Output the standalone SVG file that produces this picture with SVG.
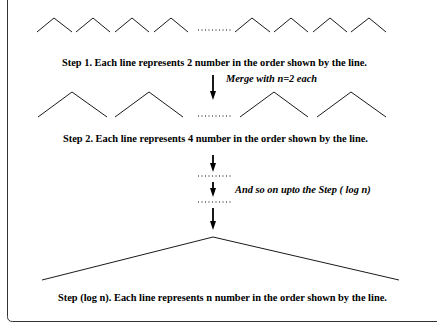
<svg xmlns="http://www.w3.org/2000/svg" width="438" height="327" viewBox="0 0 438 327">
<style>
.z{fill:none;stroke:#000;stroke-width:0.9}
.t{font-family:"Liberation Serif",serif;font-weight:bold;font-size:10.4px;fill:#000}
.i{font-family:"Liberation Serif",serif;font-weight:bold;font-style:italic;font-size:10.4px;fill:#000}
.a{stroke:#000;stroke-width:1.8;marker-end:url(#ah)}
.d{stroke:#000;stroke-width:1;stroke-dasharray:1 2.5}
</style>
<defs>
<marker id="ah" markerWidth="9" markerHeight="6" refX="0" refY="3" orient="auto" markerUnits="userSpaceOnUse" viewBox="0 0 9 6">
<path d="M0,0 L9,3 L0,6 Z" fill="#000"/>
</marker>
</defs>
<path d="M7.5,0 V316.5 Q7.5,321.5 12.5,321.5 H437" fill="none" stroke="#333" stroke-width="1"/>
<g id="row1">
<polyline class="z" points="37,32 54,18 72,32"/>
<polyline class="z" points="76,32 93,18 110,32"/>
<polyline class="z" points="115,32 132,18 149,32"/>
<polyline class="z" points="154,32 171,18 188,32"/>
<line class="d" x1="198" y1="30" x2="233" y2="30"/>
<polyline class="z" points="235,32 252,18 270,32"/>
<polyline class="z" points="274,32 291,18 308,32"/>
<polyline class="z" points="313,32 330,18 347,32"/>
<polyline class="z" points="351,32 369,18 386,32"/>
</g>
<g id="label1"><text class="t" x="62" y="66">Step 1. Each line represents 2 number in the order shown by the line.</text></g>
<g id="merge"><text class="i" x="226" y="82">Merge with n=2 each</text></g>
<g id="row2">
<polyline class="z" points="38,117 72,92 107,117"/>
<polyline class="z" points="115,117 149,92 183,117"/>
<line class="d" x1="198" y1="116" x2="233" y2="116"/>
<polyline class="z" points="240,117 274,92 308,117"/>
<polyline class="z" points="317,117 351,92 386,117"/>
</g>
<g id="label2"><text class="t" x="63" y="142">Step 2. Each line represents 4 number in the order shown by the line.</text></g>
<g id="dots">
<line class="d" x1="198" y1="176" x2="233" y2="176"/>
<line class="d" x1="198" y1="202" x2="233" y2="202"/>
</g>
<g id="andso"><text class="i" x="235" y="193">And so on upto the Step ( log n)</text></g>
<g id="final">
<polyline class="z" points="42,280 213,237 399,280"/>
</g>
<g id="label3"><text class="t" x="58" y="301">Step (log n). Each line represents n number in the order shown by the line.</text></g>
<g id="connectors">
<line class="a" x1="213" y1="75" x2="213" y2="91"/>
<line class="a" x1="213" y1="155" x2="213" y2="163"/>
<line class="a" x1="213" y1="182" x2="213" y2="188"/>
<line class="a" x1="213" y1="208" x2="213" y2="221"/>
</g>
</svg>
